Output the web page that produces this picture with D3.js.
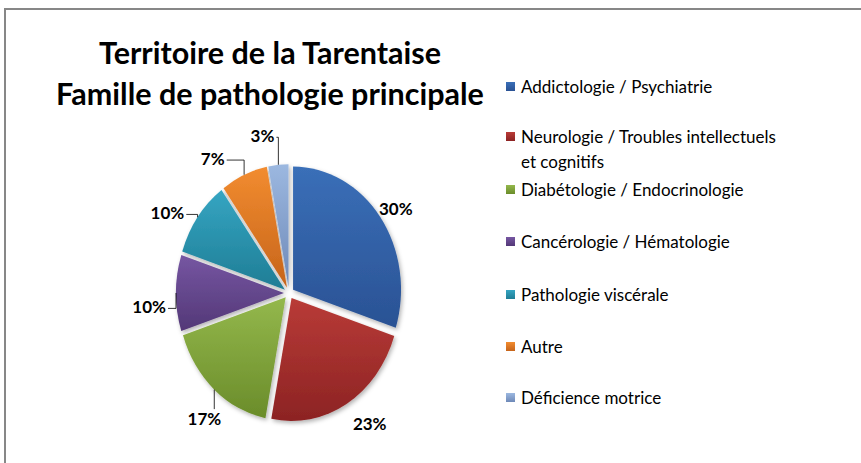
<!DOCTYPE html>
<html>
<head>
<meta charset="utf-8">
<script src="https://cdn.jsdelivr.net/npm/d3@7"></script>
<style>
  body { margin: 0; background: #fff; }
  svg { display: block; }
</style>
</head>
<body>
<div id="chart"></div>
<script>
// data
var categories = [
  "Addictologie / Psychiatrie",
  "Neurologie / Troubles intellectuels et cognitifs",
  "Diabétologie / Endocrinologie",
  "Cancérologie / Hématologie",
  "Pathologie viscérale",
  "Autre",
  "Déficience motrice"
];
var legendLines = [
  ["Addictologie / Psychiatrie"],
  ["Neurologie / Troubles intellectuels", "et cognitifs"],
  ["Diabétologie / Endocrinologie"],
  ["Cancérologie / Hématologie"],
  ["Pathologie viscérale"],
  ["Autre"],
  ["Déficience motrice"]
];
var values = [30, 23, 17, 10, 10, 7, 3];
var titleLines = ["Territoire de la Tarentaise", "Famille de pathologie principale"];

// gradient colours (top, bottom)
var colorsTop = ["#3a6fb8", "#b93b37", "#94b84c", "#7656a2", "#35a5c2", "#f28c30", "#9cb8e0"];
var colorsBot = ["#2a5294", "#8c2323", "#6a8c2a", "#533877", "#1f7d95", "#c6641a", "#6e89b8"];

var width = 861, height = 463;
var cx = 289, cy = 293, r = 108, sy = 1.14;
var explode = 5;

var svg = d3.select("#chart").append("svg")
  .attr("width", width)
  .attr("height", height);

var defs = svg.append("defs");

var filter = defs.append("filter")
  .attr("id", "shadow")
  .attr("x", "-20%").attr("y", "-20%")
  .attr("width", "140%").attr("height", "140%");
filter.append("feDropShadow")
  .attr("dx", 1.5).attr("dy", 2)
  .attr("stdDeviation", 2)
  .attr("flood-color", "#000")
  .attr("flood-opacity", 0.3);

values.forEach(function (v, i) {
  var g = defs.append("linearGradient")
    .attr("id", "grad" + i)
    .attr("x1", 0).attr("y1", 0).attr("x2", 0).attr("y2", 1);
  g.append("stop").attr("offset", "0%").attr("stop-color", colorsTop[i]);
  g.append("stop").attr("offset", "100%").attr("stop-color", colorsBot[i]);
});

// frame
svg.append("path")
  .attr("d", "M5,470 L5,9 L870,9")
  .attr("fill", "none")
  .attr("stroke", "#878787")
  .attr("stroke-width", 2);

// title
svg.append("g")
  .selectAll("text")
  .data(titleLines)
  .enter().append("text")
  .attr("x", 270)
  .attr("y", function (d, i) { return 64 + i * 41; })
  .attr("text-anchor", "middle")
  .style("font-family", "Lato, 'Open Sans', sans-serif")
  .style("font-weight", "bold")
  .style("font-size", "30.5px")
  .style("fill", "#000")
  .text(function (d) { return d; });

// pie
var pie = d3.pie().sort(null).value(function (d) { return d; });
var arcs = pie(values);
var arc = d3.arc().innerRadius(0).outerRadius(r);

var pieG = svg.append("g")
  .attr("transform", "translate(" + cx + "," + cy + ") scale(1," + sy + ")")
  .attr("filter", "url(#shadow)");

pieG.selectAll("path")
  .data(arcs)
  .enter().append("path")
  .attr("d", arc)
  .attr("transform", function (d) {
    var a = (d.startAngle + d.endAngle) / 2;
    return "translate(" + (Math.sin(a) * explode) + "," + (-Math.cos(a) * explode) + ")";
  })
  .attr("fill", function (d, i) { return "url(#grad" + i + ")"; });

// labels
var labelRadius = [1.2, 1.3, 1.29, 1.3, 1.3, 1.3, 1.3];
var labelTurn = [1.5, -4.5, -4, -5, -6, -9.5, -5.5];
var leader = [false, false, true, true, true, true, true];

function ellipsePoint(a, k) {
  return [cx + Math.sin(a) * r * k, cy - Math.cos(a) * r * sy * k];
}

var labelG = svg.append("g");

arcs.forEach(function (d, i) {
  var mid = (d.startAngle + d.endAngle) / 2;
  var a = mid + labelTurn[i] * Math.PI / 180;
  var p = ellipsePoint(a, labelRadius[i]);
  var t = labelG.append("text")
    .attr("x", p[0])
    .attr("y", p[1])
    .attr("dy", "0.35em")
    .attr("text-anchor", "middle")
    .style("font-family", "Lato, 'Open Sans', sans-serif")
    .style("font-weight", "bold")
    .style("font-size", "17px")
    .style("fill", "#000")
    .text(d3.format(".0%")(values[i] / 100));

  if (leader[i]) {
    var bb = t.node().getBBox();
    var edge = ellipsePoint(mid, 1 + explode / r);
    var pts;
    if (p[1] > cy + r * sy * 0.8) {
      // label below: straight up
      pts = [[edge[0], bb.y + 1], edge];
    } else {
      var side = edge[0] > p[0] ? 1 : -1;
      var sx = side > 0 ? bb.x + bb.width + 2 : bb.x - 2;
      var sy0 = bb.y + bb.height / 2 + 2;
      pts = [[sx, sy0], [edge[0], sy0], edge];
    }
    labelG.append("path")
      .attr("d", d3.line()(pts))
      .attr("fill", "none")
      .attr("stroke", "#000")
      .attr("stroke-width", 0.8);
  }
});

// legend
var legendY = [87, 137, 190, 242, 295, 347, 398];
var legend = svg.append("g");
legendLines.forEach(function (lines, i) {
  var g = legend.append("g").attr("transform", "translate(506," + legendY[i] + ")");
  g.append("rect")
    .attr("x", 0).attr("y", -5)
    .attr("width", 9).attr("height", 9)
    .attr("fill", "url(#grad" + i + ")");
  g.selectAll("text")
    .data(lines)
    .enter().append("text")
    .attr("x", 15)
    .attr("y", function (d, j) { return j * 25; })
    .attr("dy", "0.35em")
    .style("font-family", "Lato, 'Open Sans', sans-serif")
    .style("font-size", "17px")
    .style("fill", "#000")
    .text(function (d) { return d; });
});
</script>
</body>
</html>
